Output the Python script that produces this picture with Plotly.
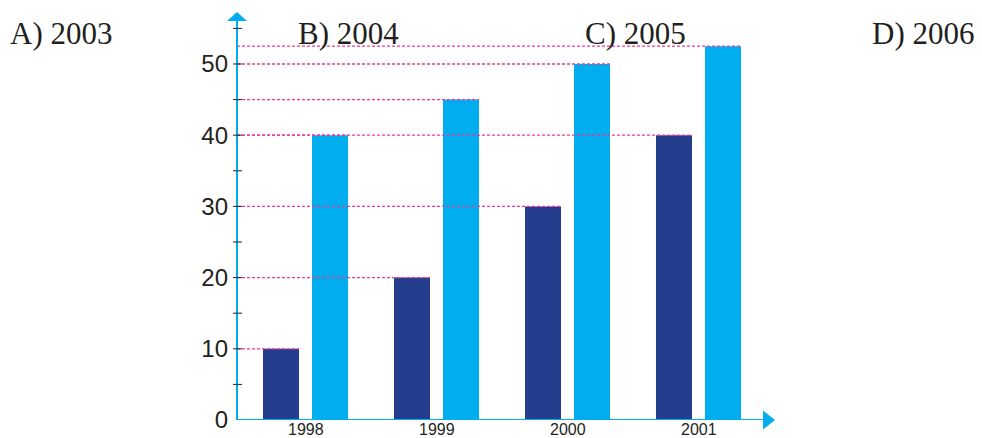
import plotly.graph_objects as go

# Data
years = ["1998", "1999", "2000", "2001"]
series_dark = [10, 20, 30, 40]
series_light = [40, 45, 50, 52.5]
answer_options = ["A) 2003", "B) 2004", "C) 2005", "D) 2006"]
y_tick_values = [0, 10, 20, 30, 40, 50]
minor_tick_values = [5, 10, 15, 20, 25, 30, 35, 40, 45, 50, 55]

# Styling
DARK = "#253d8d"
LIGHT = "#00aeef"
PINK = "#ec3a95"
TEXT = "#231f20"
BAR_W = 0.275
OFF_DARK = -0.3245
OFF_LIGHT = 0.0495
X_MIN, X_MAX = -0.523, 3.584
Y_MAX = 57.3

xpos = list(range(len(years)))

fig = go.Figure()
fig.add_trace(go.Bar(x=xpos, y=series_dark, width=BAR_W, offset=OFF_DARK,
                     marker=dict(color=DARK, line=dict(width=0)), hoverinfo="skip"))
fig.add_trace(go.Bar(x=xpos, y=series_light, width=BAR_W, offset=OFF_LIGHT,
                     marker=dict(color=LIGHT, line=dict(width=0)), hoverinfo="skip"))

shapes = []
# dashed guide lines from the y axis to the top of each bar
for off, vals in ((OFF_DARK, series_dark), (OFF_LIGHT, series_light)):
    for i, v in enumerate(vals):
        shapes.append(dict(type="line", xref="x", yref="y",
                           x0=X_MIN, x1=i + off + BAR_W, y0=v, y1=v,
                           line=dict(color=PINK, width=1.3, dash="3px,2px"),
                           layer="above"))

# axis lines
shapes.append(dict(type="line", xref="paper", yref="y", x0=0, x1=0, y0=0, y1=Y_MAX * 0.99,
                   line=dict(color=LIGHT, width=2)))
shapes.append(dict(type="line", xref="paper", yref="y", x0=0, x1=0.98, y0=0, y1=0,
                   line=dict(color=LIGHT, width=2)))
# arrow heads
shapes.append(dict(type="path", xref="paper", yref="paper",
                   path="M -0.0186 0.978 L 0.0186 0.978 L 0 1.0 Z",
                   fillcolor=LIGHT, line=dict(width=0)))
shapes.append(dict(type="path", xref="paper", yref="paper",
                   path="M 0.9777 0.0233 L 0.9777 -0.0233 L 1.0 0 Z",
                   fillcolor=LIGHT, line=dict(width=0)))
# tick marks crossing the y axis
for t in minor_tick_values:
    shapes.append(dict(type="line", xref="paper", yref="y", x0=-0.0074, x1=0.0093,
                       y0=t, y1=t, line=dict(color=TEXT, width=1)))

annotations = []
option_x = [-0.4219, 0.1134, 0.6468, 1.1803]
for label, ax in zip(answer_options, option_x):
    annotations.append(dict(text=label, xref="paper", yref="paper", x=ax, y=0.9485,
                            xanchor="left", yanchor="middle", showarrow=False,
                            borderpad=0, borderwidth=0,
                            font=dict(family="Liberation Serif, Times New Roman, serif",
                                      size=31, color=TEXT)))

# year labels tucked just under the x axis
for xp, yr in zip(xpos, years):
    annotations.append(dict(text=yr, xref="x", yref="paper", x=xp, y=-0.0441,
                            xanchor="center", yanchor="bottom", showarrow=False,
                            borderpad=0, borderwidth=0,
                            font=dict(family="Liberation Sans, Arial, sans-serif",
                                      size=16, color=TEXT)))

fig.update_layout(
    width=982, height=438,
    margin=dict(l=237, r=207, t=12, b=18, autoexpand=False),
    paper_bgcolor="white", plot_bgcolor="white",
    showlegend=False,
    barmode="overlay",
    shapes=shapes,
    annotations=annotations,
    xaxis=dict(range=[X_MIN, X_MAX], showticklabels=False,
               showgrid=False, zeroline=False, showline=False, ticks="",
               automargin=False, fixedrange=True),
    yaxis=dict(range=[0, Y_MAX], tickvals=y_tick_values,
               showgrid=False, zeroline=False, showline=False, ticks="",
               automargin=False, ticklabelstandoff=8,
               tickfont=dict(family="Liberation Sans, Arial, sans-serif", size=24, color=TEXT),
               fixedrange=True),
)

fig.write_html("out.html", config={"displayModeBar": False})
